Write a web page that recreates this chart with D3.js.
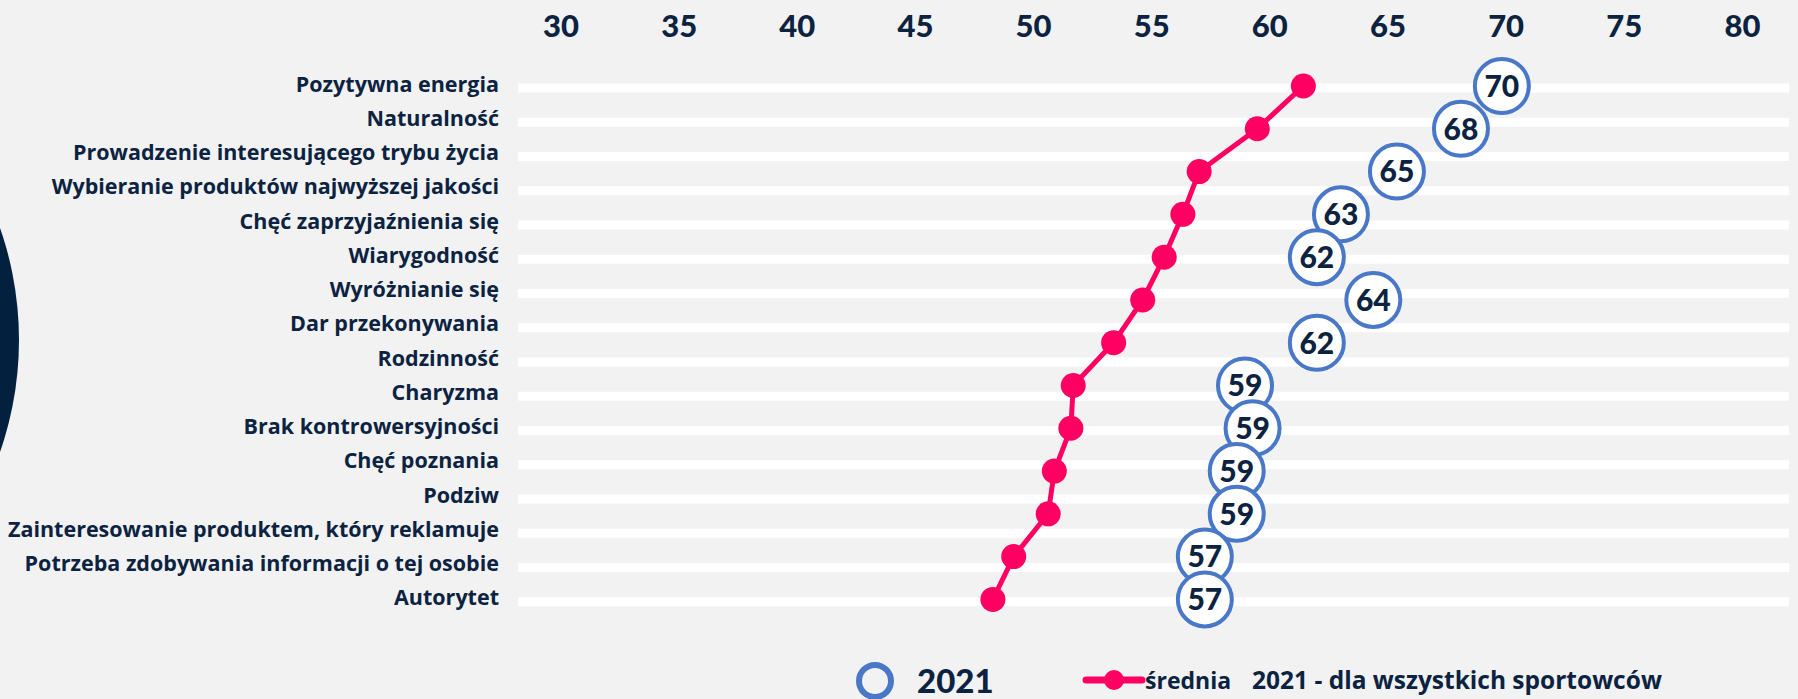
<!DOCTYPE html>
<html>
<head>
<meta charset="utf-8">
<script src="https://cdn.jsdelivr.net/npm/d3@7"></script>
<style>
  html, body { margin: 0; padding: 0; background: #f2f2f2; }
  svg { display: block; }
</style>
</head>
<body>
<svg id="chart" width="1798" height="699"></svg>
<script>
// Attribute labels shown on the left axis
const categories = [
  "Pozytywna energia",
  "Naturalność",
  "Prowadzenie interesującego trybu życia",
  "Wybieranie produktów najwyższej jakości",
  "Chęć zaprzyjaźnienia się",
  "Wiarygodność",
  "Wyróżnianie się",
  "Dar przekonywania",
  "Rodzinność",
  "Charyzma",
  "Brak kontrowersyjności",
  "Chęć poznania",
  "Podziw",
  "Zainteresowanie produktem, który reklamuje",
  "Potrzeba zdobywania informacji o tej osobie",
  "Autorytet"
];

// 2021 scores (blue rings) and the all-athlete average (pink line)
const values2021 = [69.84, 68.11, 65.40, 63.03, 62.01, 64.40, 62.01, 58.97, 59.29, 58.62, 58.62, 57.27, 57.27];
const avgAll     = [61.44, 59.49, 57.03, 56.34, 55.55, 54.64, 53.41, 51.70, 51.60, 50.90, 50.64, 49.18, 48.30];

const xTicks = [30, 35, 40, 45, 50, 55, 60, 65, 70, 75, 80];

const legendRing = "2021";
const legendLine = ["średnia", "2021 - dla wszystkich sportowców"];

const NAVY = "#0b2341";
const PINK = "#ff0062";
const BLUE = "#4a78c8";
const LABEL_FONT = "'Open Sans', sans-serif";

const svg = d3.select("#chart");

// decorative dark disc on the left edge
svg.append("circle")
  .attr("cx", -321).attr("cy", 340).attr("r", 340)
  .attr("fill", "#03203e");

const x = d3.scaleLinear().domain([30, 80]).range([560.5, 1741.9]);
const yCat = d3.scalePoint().domain(categories).range([88, 601.75]);
const yPt = d3.scalePoint().domain(d3.range(values2021.length)).range([86, 599.4]);

// top axis
const xAxis = d3.axisTop(x).tickValues(xTicks).tickSize(0).tickPadding(0);
const gx = svg.append("g").attr("transform", "translate(0,37)").call(xAxis);
gx.select(".domain").remove();
gx.selectAll("text")
  .attr("fill", NAVY)
  .style("font-family", "Lato, sans-serif")
  .style("font-weight", 900)
  .style("font-size", "31px")
  .attr("dy", 0);

// white row stripes
svg.append("g").selectAll("rect")
  .data(categories)
  .join("rect")
  .attr("x", 518).attr("width", 1789 - 518)
  .attr("y", d => yCat(d) - 4.5).attr("height", 9)
  .attr("fill", "#ffffff");

// category labels
const yAxis = d3.axisLeft(yCat).tickSize(0).tickPadding(0);
const gy = svg.append("g").attr("transform", "translate(499,0)").call(yAxis);
gy.select(".domain").remove();
gy.selectAll("text")
  .attr("fill", NAVY)
  .attr("dy", "3px")
  .attr("dominant-baseline", "alphabetic")
  .style("font-family", LABEL_FONT)
  .style("font-weight", 700)
  .style("font-size", "21.5px");

// average line
const line = d3.line().x(d => x(d)).y((d, i) => yPt(i));
svg.append("path")
  .datum(avgAll)
  .attr("d", line)
  .attr("fill", "none")
  .attr("stroke", PINK)
  .attr("stroke-width", 5);

svg.append("g").selectAll("circle")
  .data(avgAll)
  .join("circle")
  .attr("cx", d => x(d))
  .attr("cy", (d, i) => yPt(i))
  .attr("r", 12.5)
  .attr("fill", PINK);

// 2021 rings with their values
const rings = svg.append("g").selectAll("g")
  .data(values2021)
  .join("g")
  .attr("transform", (d, i) => `translate(${x(d)},${yPt(i)})`);

rings.append("circle")
  .attr("r", 27)
  .attr("fill", "#ffffff")
  .attr("stroke", BLUE)
  .attr("stroke-width", 4);

rings.append("text")
  .text(d => Math.round(d))
  .attr("text-anchor", "middle")
  .attr("dy", "0.36em")
  .attr("fill", NAVY)
  .style("font-family", "Lato, sans-serif")
  .style("font-weight", 900)
  .style("font-size", "30px");

// legend
const lg = svg.append("g");
lg.append("circle")
  .attr("cx", 875).attr("cy", 681).attr("r", 16)
  .attr("fill", "none")
  .attr("stroke", BLUE)
  .attr("stroke-width", 6);
lg.append("text")
  .attr("x", 917).attr("y", 693)
  .text(legendRing)
  .attr("fill", NAVY)
  .style("font-family", "Lato, sans-serif")
  .style("font-weight", 900)
  .style("font-size", "33px");

lg.append("line")
  .attr("x1", 1086).attr("x2", 1142)
  .attr("y1", 680).attr("y2", 680)
  .attr("stroke", PINK)
  .attr("stroke-width", 7)
  .attr("stroke-linecap", "round");
lg.append("circle")
  .attr("cx", 1114).attr("cy", 680).attr("r", 10)
  .attr("fill", PINK);
lg.append("text")
  .attr("x", 1145).attr("y", 689)
  .text(legendLine[0])
  .attr("fill", NAVY)
  .style("font-family", LABEL_FONT)
  .style("font-weight", 700)
  .style("font-size", "23px");
lg.append("text")
  .attr("x", 1252).attr("y", 689)
  .text(legendLine[1])
  .attr("fill", NAVY)
  .style("font-family", LABEL_FONT)
  .style("font-weight", 700)
  .style("font-size", "24.5px");
</script>
</body>
</html>
